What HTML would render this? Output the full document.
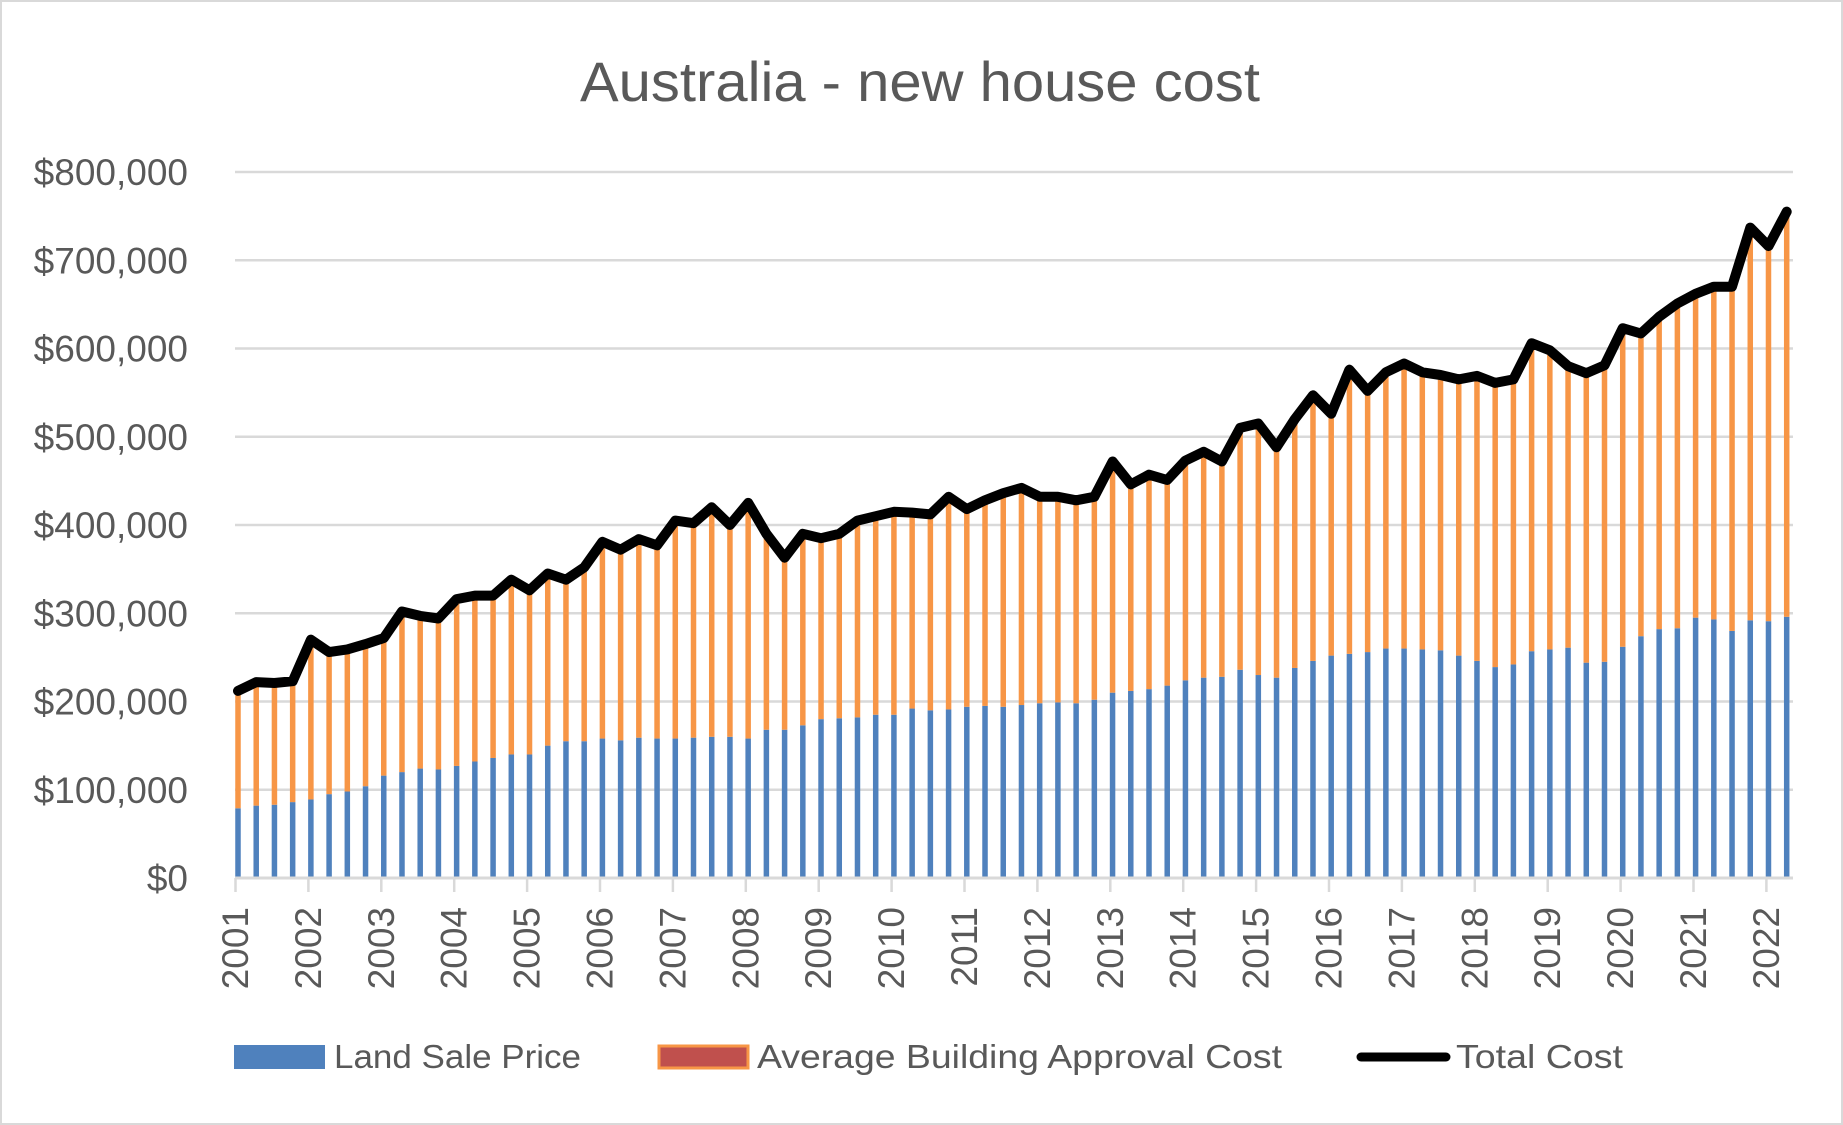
<!DOCTYPE html>
<html><head><meta charset="utf-8"><style>
html,body{margin:0;padding:0;background:#fff;}
svg{display:block;font-family:"Liberation Sans",sans-serif;}
</style></head><body>
<svg id="chart" width="1843" height="1125" viewBox="0 0 1843 1125" xmlns="http://www.w3.org/2000/svg">
<rect x="1" y="1" width="1841" height="1123" fill="#fff" stroke="#d9d9d9" stroke-width="2"/>
<text x="920" y="101" text-anchor="middle" font-size="56" fill="#595959" textLength="680" lengthAdjust="spacingAndGlyphs">Australia - new house cost</text>
<g id="grid"></g>
<g id="ylabels"></g>
<g id="bars"></g>
<g id="line"></g>
<g id="xaxis"></g>
<g>
  <g>
    <rect x="234" y="1045" width="91" height="24" fill="#4F81BD"/>
    <text x="334" y="1068" font-size="33" fill="#595959" textLength="247" lengthAdjust="spacingAndGlyphs">Land Sale Price</text>
  </g>
  <g>
    <rect x="659" y="1046" width="89" height="22" fill="#C0504D" stroke="#F79646" stroke-width="3"/>
    <text x="757" y="1068" font-size="33" fill="#595959" textLength="525" lengthAdjust="spacingAndGlyphs">Average Building Approval Cost</text>
  </g>
  <g>
    <line x1="1361" y1="1057" x2="1446" y2="1057" stroke="#000" stroke-width="9" stroke-linecap="round"/>
    <text x="1456" y="1068" font-size="33" fill="#595959" textLength="167" lengthAdjust="spacingAndGlyphs">Total Cost</text>
  </g>
</g>
</svg>
<script>
const years = ["2001","2002","2003","2004","2005","2006","2007","2008","2009","2010","2011","2012","2013","2014","2015","2016","2017","2018","2019","2020","2021","2022"];
const yTicks = [0,100000,200000,300000,400000,500000,600000,700000,800000];
const yTickLabels = ["$0","$100,000","$200,000","$300,000","$400,000","$500,000","$600,000","$700,000","$800,000"];
const landSale = [79,82,83,86, 89,95,98,104, 116,120,124,123, 127,132,136,140, 140,150,155,155, 158,156,159,158, 158,159,160,160, 158,168,168,173, 180,181,182,185, 185,192,190,191, 194,195,194,196, 198,199,198,202, 210,212,214,218, 224,227,228,236, 230,227,238,246, 252,254,256,260, 260,259,258,252, 246,239,242,257, 259,261,244,245, 262,274,282,283, 295,293,280,292, 291,296];
const totalCost = [212,222,221,223, 270,256,259,265, 272,302,297,294, 316,320,320,338, 326,345,338,352, 381,372,384,377, 405,402,420,400, 425,390,363,390, 385,390,405,410, 415,414,412,432, 418,428,436,442, 432,432,428,432, 472,446,457,451, 473,483,472,510, 515,488,520,547, 526,576,552,573, 583,573,570,565, 569,561,565,606, 598,580,572,581, 623,617,636,651, 662,670,670,737, 716,755];
const buildingCost = totalCost.map((t,i)=>t-landSale[i]);

const NS="http://www.w3.org/2000/svg";
const X0=235, X1=1793, Y0=878, Y800=172;
function yScale(v){return Y0-(v/800000)*(Y0-Y800);}
function xScale(i){return 238+i*18.22;}
function yearX(j){return 235.5+j*72.9;}
function mk(tag,attrs,parent){const e=document.createElementNS(NS,tag);for(const k in attrs)e.setAttribute(k,attrs[k]);parent.appendChild(e);return e;}

const grid=document.getElementById('grid'), yl=document.getElementById('ylabels');
yTicks.forEach((v,i)=>{
  const g=mk('line',{x1:X0,x2:X1,y1:yScale(v),y2:yScale(v),stroke:'#d9d9d9','stroke-width':2.5},grid);
  
  
  const t=mk('text',{x:188,y:yScale(v)+13,'text-anchor':'end','font-size':37,fill:'#595959'},yl);
  t.textContent=yTickLabels[i];
  
  
});

const bars=document.getElementById('bars');
landSale.forEach((v,i)=>{
  const x=xScale(i)-2.75;
  const b1=mk('rect',{x:x,y:yScale(v*1000),width:5.5,height:Y0-yScale(v*1000),fill:'#4F81BD'},bars);
  
  
  const top=yScale((v+buildingCost[i])*1000);
  const b2=mk('rect',{x:x,y:top,width:5.5,height:yScale(v*1000)-top,fill:'#F79646'},bars);
  
  
});

const pts=totalCost.map((v,i)=>xScale(i).toFixed(1)+','+yScale(v*1000).toFixed(1)).join(' ');
const pl=mk('polyline',{points:pts,fill:'none',stroke:'#000','stroke-width':10,'stroke-linejoin':'round','stroke-linecap':'round'},document.getElementById('line'));



const xa=document.getElementById('xaxis');
const ax=mk('line',{x1:X0,x2:X1,y1:Y0,y2:Y0,stroke:'#d9d9d9','stroke-width':3},xa);


years.forEach((y,j)=>{
  const x=yearX(j);
  const tk=mk('line',{x1:x,x2:x,y1:Y0,y2:892,stroke:'#d9d9d9','stroke-width':2.5},xa);
  
  
  const t=mk('text',{x:0,y:0,'text-anchor':'end','font-size':37,fill:'#595959','dominant-baseline':'central',transform:`translate(${x},907) rotate(-90)`},xa);
  t.textContent=y;
  
  
});
</script>
</body></html>
